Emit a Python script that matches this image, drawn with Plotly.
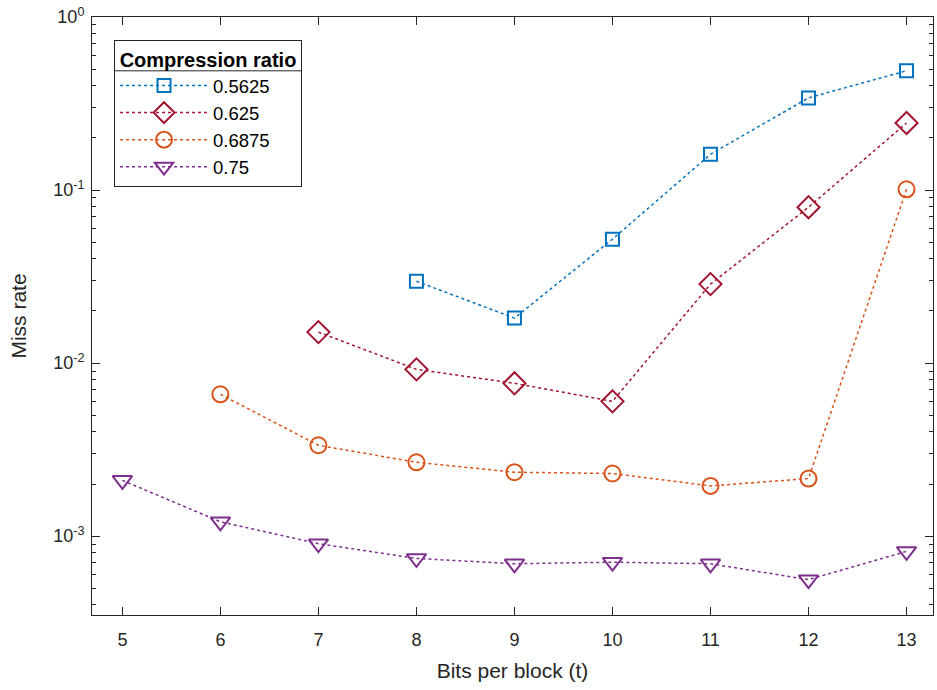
import plotly.graph_objects as go

bits = [5, 6, 7, 8, 9, 10, 11, 12, 13]
ratio_labels = ["0.5625", "0.625", "0.6875", "0.75"]

miss_05625 = [None, None, None, 0.0297, 0.0182, 0.052, 0.161, 0.341, 0.489]
miss_0625 = [None, None, 0.0151, 0.0092, 0.00764, 0.00601, 0.0286, 0.0796, 0.244]
miss_06875 = [None, 0.0066, 0.00335, 0.00267, 0.00234, 0.0023, 0.00195, 0.00215, 0.101]
miss_075 = [0.0021, 0.00121, 0.000904, 0.000743, 0.000692, 0.000707, 0.000692, 0.00056, 0.000816]

series = [miss_05625, miss_0625, miss_06875, miss_075]
colors = ["#0072BD", "#A2142F", "#D95319", "#7E2F8E"]
symbols = ["square-open", "diamond-open", "circle-open", "triangle-down-open"]
sizes = [13, 17, 16, 17]

y_major = [1e-3, 1e-2, 1e-1, 1]
y_major_text = ["10<sup>-3</sup>", "10<sup>-2</sup>", "10<sup>-1</sup>", "10<sup>0</sup>"]
y_minor = [m * 10 ** e for e in range(-4, 0) for m in range(2, 10)]

pad = "\u00a0" * 5

fig = go.Figure()
for lab, ys, c, s, sz in zip(ratio_labels, series, colors, symbols, sizes):
    xs = [b for b, v in zip(bits, ys) if v is not None]
    vs = [v for v in ys if v is not None]
    fig.add_trace(go.Scatter(
        x=xs, y=vs, name=lab + pad, mode="lines+markers",
        line=dict(color=c, width=1.5, dash="dot"),
        marker=dict(symbol=s, size=sz, color=c, line=dict(color=c, width=2)),
    ))

axis_color = "#262626"
fig.update_layout(
    width=937, height=690,
    margin=dict(l=92, r=4, t=17, b=75),
    paper_bgcolor="white", plot_bgcolor="white",
    font=dict(family="Liberation Sans, Arial, sans-serif", size=18, color=axis_color),
    xaxis=dict(
        range=[4.69, 13.27], tickvals=bits, ticks="inside", ticklen=8,
        showline=True, linecolor=axis_color, linewidth=1, mirror="ticks",
        showgrid=False, zeroline=False, tickcolor=axis_color, automargin=False,
        tickfont=dict(size=18), ticklabelstandoff=8,
        title=dict(text="Bits per block (t)", font=dict(size=21), standoff=14),
    ),
    yaxis=dict(
        type="log", range=[-3.456, 0.0002], tickvals=y_major, ticktext=y_major_text,
        ticks="inside", ticklen=8, tickcolor=axis_color, automargin=False,
        tickfont=dict(size=18), ticklabelstandoff=3, ticklabeloverflow="allow",
        minor=dict(tickvals=y_minor, ticks="inside", ticklen=4, tickcolor=axis_color, showgrid=False),
        showline=True, linecolor=axis_color, linewidth=1, mirror="ticks",
        showgrid=False, zeroline=False,
        title=dict(text="Miss rate", font=dict(size=21), standoff=20),
    ),
    legend=dict(
        x=0.0262, y=0.9615, xanchor="left", yanchor="top",
        bordercolor=axis_color, borderwidth=1, bgcolor="rgba(0,0,0,0)",
        title=dict(text="<b>Compression ratio</b>", side="top center", font=dict(size=20, color="black")),
        font=dict(size=18.5, color="black"), itemwidth=88, tracegroupgap=0,
    ),
    shapes=[dict(type="line", xref="paper", yref="paper", x0=0.0262, x1=0.2485,
                 y0=0.9100, y1=0.9100, line=dict(color=axis_color, width=1))],
)

fig.write_html("out.html", config={"displayModeBar": False},
               post_script="document.body.style.margin='0';")
